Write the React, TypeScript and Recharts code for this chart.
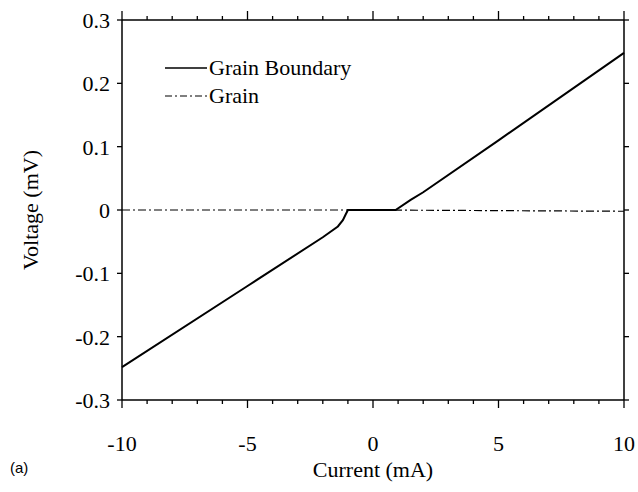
import { Label, Line, LineChart, XAxis, YAxis } from "recharts";

const boundaryCurrent = [-10, -5, -2, -1.4, -1.2, -1.1, -1.0, 0, 0.9, 1.5, 2, 5, 10];
const boundaryVoltage = [-0.248, -0.12, -0.043, -0.026, -0.016, -0.008, 0, 0, 0, 0.016, 0.028, 0.11, 0.248];
const grainCurrent = [-10, 0, 10];
const grainVoltage = [0, 0, -0.002];

const xTicks = [-10, -9, -8, -7, -6, -5, -4, -3, -2, -1, 0, 1, 2, 3, 4, 5, 6, 7, 8, 9, 10];
const yTicks = [-0.3, -0.2, -0.1, 0, 0.1, 0.2, 0.3];

const boundaryData = boundaryCurrent.map((c, i) => ({ c, v: boundaryVoltage[i] }));
const grainData = grainCurrent.map((c, i) => ({ c, v: grainVoltage[i] }));

const serif = "'Liberation Serif', 'Times New Roman', serif";
const fs = 22;

function BottomTick(props: any) {
  const { x, y, payload } = props;
  const major = payload.value % 5 === 0;
  return (
    <g>
      <line x1={x} x2={x} y1={y} y2={y + (major ? 8 : 4)} stroke="#000" strokeWidth={1.3} />
      {major && (
        <text x={x} y={y + 51} textAnchor="middle" fontFamily={serif} fontSize={fs} fill="#000">
          {payload.value}
        </text>
      )}
    </g>
  );
}

function TopTick(props: any) {
  const { x, y, payload } = props;
  const major = payload.value % 5 === 0;
  return <line x1={x} x2={x} y1={y} y2={y - (major ? 9 : 4)} stroke="#000" strokeWidth={1.3} />;
}

function LeftTick(props: any) {
  const { x, y, payload } = props;
  const label = payload.value === 0 ? "0" : payload.value.toFixed(1);
  return (
    <g>
      <line x1={x} x2={x - 5} y1={y} y2={y} stroke="#000" strokeWidth={1.3} />
      <text x={x - 12} y={y + 8} textAnchor="end" fontFamily={serif} fontSize={fs} fill="#000">
        {label}
      </text>
    </g>
  );
}

function RightTick(props: any) {
  const { x, y } = props;
  return <line x1={x} x2={x + 5} y1={y} y2={y} stroke="#000" strokeWidth={1.3} />;
}

export default function App() {
  return (
    <div style={{ position: "fixed", left: 0, top: 0, width: 638, height: 492, background: "#fff" }}>
      <LineChart width={638} height={492} margin={{ top: 0, right: 0, bottom: 0, left: 0 }}>
        <XAxis
          xAxisId="b"
          dataKey="c"
          type="number"
          domain={[-10, 10]}
          ticks={xTicks}
          interval={0}
          tickLine={false}
          tickSize={0}
          tickMargin={0}
          tick={<BottomTick />}
          axisLine={{ stroke: "#000", strokeWidth: 1.5 }}
          height={92}
        >
          <Label
            value="Current (mA)"
            position="insideBottom"
            offset={15}
            style={{ fontFamily: serif, fontSize: fs, fill: "#000" }}
          />
        </XAxis>
        <XAxis
          xAxisId="t"
          orientation="top"
          dataKey="c"
          type="number"
          domain={[-10, 10]}
          ticks={xTicks}
          interval={0}
          tickLine={false}
          tickSize={0}
          tickMargin={0}
          tick={<TopTick />}
          axisLine={{ stroke: "#000", strokeWidth: 1.5 }}
          height={20}
        />
        <YAxis
          yAxisId="l"
          type="number"
          domain={[-0.3, 0.3]}
          ticks={yTicks}
          interval={0}
          tickLine={false}
          tickSize={0}
          tickMargin={0}
          tick={<LeftTick />}
          axisLine={{ stroke: "#000", strokeWidth: 1.5 }}
          width={122}
        >
          <Label
            value="Voltage (mV)"
            angle={-90}
            position="insideLeft"
            offset={30}
            style={{ fontFamily: serif, fontSize: fs, fill: "#000", textAnchor: "middle" }}
          />
        </YAxis>
        <YAxis
          yAxisId="r"
          orientation="right"
          type="number"
          domain={[-0.3, 0.3]}
          ticks={yTicks}
          interval={0}
          tickLine={false}
          tickSize={0}
          tickMargin={0}
          tick={<RightTick />}
          axisLine={{ stroke: "#000", strokeWidth: 1.5 }}
          width={14}
        />
        <Line
          xAxisId="t"
          yAxisId="r"
          data={grainData}
          dataKey="v"
          type="linear"
          stroke="#000"
          strokeWidth={1.2}
          strokeDasharray="8 3 2 3"
          dot={false}
          isAnimationActive={false}
        />
        <Line
          xAxisId="b"
          yAxisId="l"
          data={boundaryData}
          dataKey="v"
          type="linear"
          stroke="#000"
          strokeWidth={2}
          dot={false}
          isAnimationActive={false}
        />
        <g>
          <line x1={165} x2={207} y1={68} y2={68} stroke="#000" strokeWidth={1.3} />
          <text x={209} y={75} fontFamily={serif} fontSize={fs} fill="#000">
            Grain Boundary
          </text>
          <line x1={165} x2={207} y1={96} y2={96} stroke="#000" strokeWidth={1.2} strokeDasharray="7 3 2 3" />
          <text x={209} y={103} fontFamily={serif} fontSize={fs} fill="#000">
            Grain
          </text>
        </g>
        <text x={10} y={473} fontFamily="'Liberation Sans', Arial, sans-serif" fontSize={15} fill="#000">
          (a)
        </text>
      </LineChart>
    </div>
  );
}
